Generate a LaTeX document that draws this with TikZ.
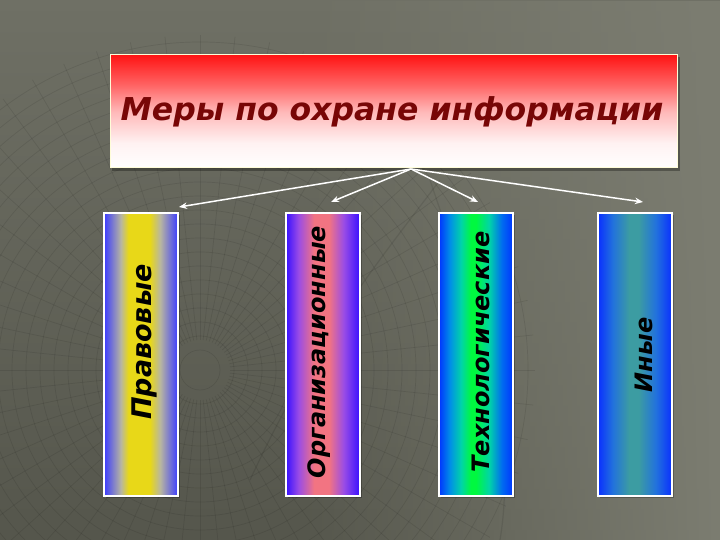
\documentclass[tikz,border=0pt]{standalone}
\usepackage{fontspec}
\setmainfont{DejaVu Sans}
\newfontfamily\heavyfont{DejaVu Sans}[BoldFeatures={FakeBold=1.2}]
\usetikzlibrary{arrows.meta,fadings}
\definecolor{bgtop}{HTML}{6F7065}
\definecolor{bgbot}{HTML}{55564C}
\definecolor{bglight}{HTML}{7C7D71}
\definecolor{tred}{HTML}{FF1414}
\definecolor{tmid}{HTML}{FF6262}
\definecolor{tpink}{HTML}{FFB8B8}
\definecolor{tlight}{HTML}{FFF2F2}
\definecolor{titletext}{HTML}{780606}
% bar 1
\definecolor{aBlue}{HTML}{3C3CFF}
\definecolor{aGray}{HTML}{B8B6A0}
\definecolor{aYel}{HTML}{E8D818}
% bar 2
\definecolor{bBlue}{HTML}{3810FF}
\definecolor{bPur}{HTML}{9A4CE6}
\definecolor{bPink}{HTML}{F27482}
% bar 3
\definecolor{cBlue}{HTML}{0034FF}
\definecolor{cAz}{HTML}{0090E6}
\definecolor{cCy}{HTML}{00D4A8}
\definecolor{cGr}{HTML}{00F840}
% bar 4
\definecolor{dBlue}{HTML}{0A30FF}
\definecolor{dMid}{HTML}{2272DC}
\definecolor{dTeal}{HTML}{3C9CA2}
\pgfdeclareverticalshading{titleshade}{100bp}{color(0bp)=(white); color(25bp)=(white); color(36bp)=(tlight); color(50bp)=(tpink); color(62bp)=(tmid); color(75bp)=(tred); color(100bp)=(tred)}
\pgfdeclarehorizontalshading{barA}{100bp}{color(0bp)=(aBlue); color(25bp)=(aBlue); color(36.5bp)=(aGray); color(41.5bp)=(aYel); color(56bp)=(aYel); color(63bp)=(aGray); color(75bp)=(aBlue); color(100bp)=(aBlue)}
\pgfdeclarehorizontalshading{barB}{100bp}{color(0bp)=(bBlue); color(25bp)=(bBlue); color(33.5bp)=(bPur); color(44bp)=(bPink); color(54bp)=(bPink); color(64bp)=(bPur); color(75bp)=(bBlue); color(100bp)=(bBlue)}
\pgfdeclarehorizontalshading{barC}{100bp}{color(0bp)=(cBlue); color(25bp)=(cBlue); color(32.5bp)=(cAz); color(40bp)=(cCy); color(46.5bp)=(cGr); color(50bp)=(cGr); color(59bp)=(cCy); color(67.5bp)=(cAz!60!cBlue); color(75bp)=(cBlue); color(100bp)=(cBlue)}
\pgfdeclarehorizontalshading{barD}{100bp}{color(0bp)=(dBlue); color(25bp)=(dBlue); color(35bp)=(dMid); color(46bp)=(dTeal); color(52.5bp)=(dTeal); color(64bp)=(dMid); color(75bp)=(dBlue); color(100bp)=(dBlue)}
\tikzfading[name=fromleft, left color=transparent!100, right color=transparent!0]
\tikzset{
  bar/.style={draw=white, line width=1.3pt, minimum width=74pt, minimum height=283pt, inner sep=0pt},
  barshadow/.style={fill=black, opacity=0.25},
  bartext/.style={rotate=90, text=black, font=\heavyfont\fontsize{24}{27}\selectfont\bfseries\itshape, inner sep=0pt},
  link/.style={draw=white, line width=1.5pt, -{Stealth[length=8pt,width=6.5pt]}},
  grid/.style={draw=black, opacity=0.09, line width=0.7pt}
}
\begin{document}
\begin{tikzpicture}[x=1pt,y=-1pt]
\useasboundingbox (0,0) rectangle (720,540);
% background
\fill[top color=bgtop, bottom color=bgbot] (0,0) rectangle (720,540);
\fill[bglight, path fading=fromleft] (300,0) rectangle (720,540);
% wireframe globe
\begin{scope}
\clip (200,370) circle (335);
\foreach \r in {20,34,...,335} \draw[grid] (200,370) circle (\r);
\foreach \a in {0,6,...,354} \draw[grid] (200,370) ++(\a:30) -- ++(\a:305);
\end{scope}
\draw[grid, line width=1.2pt] (430,180) .. controls (470,300) and (520,420) .. (500,540);
\draw[grid, line width=1.2pt] (250,480) .. controls (320,330) and (380,260) .. (440,180);
% title
\fill[black, opacity=0.3] (112,57) rectangle (680,171);
\node[draw=white!85!yellow, line width=1pt, shading=titleshade, minimum width=567pt, minimum height=113pt, inner sep=0pt] (title) at (393.5,111.5) {};
\node[text=titletext, font=\heavyfont\fontsize{31.5}{36}\selectfont\bfseries\itshape, inner sep=0pt] (ttext) at (392,112) {Меры по охране информации};
% bars
\foreach \x in {141,323,476,635} \fill[barshadow] (\x-37+2,213+2) rectangle (\x+37+2,496+2);
\node[bar, shading=barA] (b1) at (141,354.5) {};
\node[bar, shading=barB] (b2) at (323,354.5) {};
\node[bar, shading=barC] (b3) at (476,354.5) {};
\node[bar, shading=barD] (b4) at (635,354.5) {};
\node[bartext, font=\heavyfont\fontsize{27}{30}\selectfont\bfseries\itshape] (l1) at (144,342) {Правовые};
\node[bartext] (l2) at (319,352) {Организационные};
\node[bartext] (l3) at (481,352) {Технологические};
\node[bartext] (l4) at (644,355) {Иные};
% connectors
\coordinate (apex) at (411,169);
\coordinate (e1) at (179,207);
\coordinate (e2) at (331,202);
\coordinate (e3) at (478,202);
\coordinate (e4) at (643,202);
\draw[link] (apex) -- (e1);
\draw[link] (apex) -- (e2);
\draw[link] (apex) -- (e3);
\draw[link] (apex) -- (e4);
\end{tikzpicture}
\end{document}
